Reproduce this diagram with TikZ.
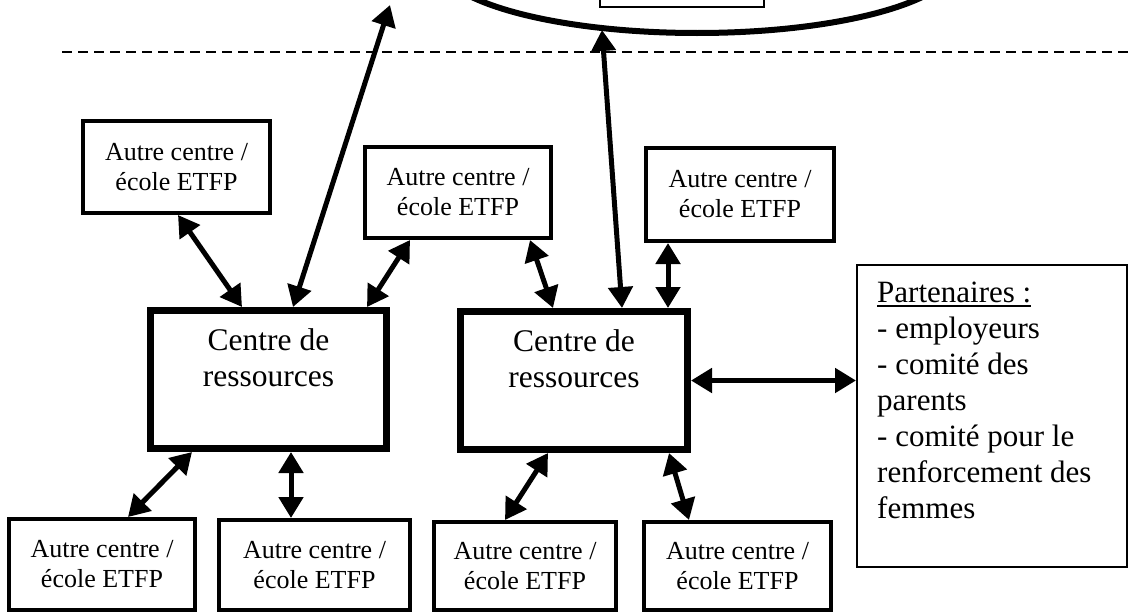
\documentclass[tikz,border=0pt]{standalone}
\usepackage{fontspec}
\setmainfont{Liberation Serif}
\usetikzlibrary{arrows.meta,shapes.geometric}
\newsavebox\myulbox
\newcommand\myul[1]{\sbox\myulbox{#1}\rlap{\rule[-4pt]{\wd\myulbox}{1.5pt}}\usebox\myulbox}
\begin{document}
\begin{tikzpicture}[x=1pt,y=-1pt,
  sbox/.style={draw, line width=4pt, rectangle, inner sep=0pt, align=center,
    font=\fontsize{26}{30}\selectfont},
  cbox/.style={draw, line width=7pt, rectangle, inner sep=0pt},
  ctext/.style={inner sep=0pt, align=center, anchor=north,
    font=\fontsize{31.5}{36}\selectfont},
  arr/.style={line width=5pt,
    {Triangle[length=21pt,width=24pt]}-{Triangle[length=21pt,width=24pt]}},
]
\useasboundingbox (0,0) rectangle (1129,613);
\clip (0,0) rectangle (1129,613);
\fill[white] (0,0) rectangle (1129,613);

% top ellipse and inner box
\node[draw, ellipse, line width=6pt, minimum width=520pt, minimum height=144pt, inner sep=0pt] (top) at (697,-39) {};
\node[draw, line width=2pt, rectangle, minimum width=164pt, minimum height=47pt, inner sep=0pt] (topbox) at (682,-16.5) {};
\coordinate (ext1) at (390,5);
\coordinate (ext2) at (602,30);

% dashed line
\draw[line width=2pt, dash pattern=on 10pt off 6pt] (62,52) -- (1129,52);

% top boxes
\node[sbox, minimum width=187pt, minimum height=92pt] (tl1) at (176.5,167) {Autre centre /\\école ETFP};
\node[sbox, minimum width=186pt, minimum height=91pt] (tl2) at (458,192.5) {Autre centre /\\école ETFP};
\node[sbox, minimum width=188pt, minimum height=93pt] (tl3) at (740,194.5) {Autre centre /\\école ETFP};

% centre boxes
\node[cbox, minimum width=236pt, minimum height=138pt] (c1) at (268.5,379.5) {};
\node[ctext] (c1t) at (268.5,328.5) {Centre de\\ressources};
\node[cbox, minimum width=227pt, minimum height=138pt] (c2) at (574,380.5) {};
\node[ctext] (c2t) at (574,329) {Centre de\\ressources};

% bottom boxes
\node[sbox, minimum width=186pt, minimum height=91pt] (bl1) at (102,564.5) {Autre centre /\\école ETFP};
\node[sbox, minimum width=191pt, minimum height=90pt] (bl2) at (314.5,565) {Autre centre /\\école ETFP};
\node[sbox, minimum width=182pt, minimum height=88pt] (bl3) at (525,566) {Autre centre /\\école ETFP};
\node[sbox, minimum width=187pt, minimum height=88pt] (bl4) at (737.5,566) {Autre centre /\\école ETFP};

% partners
\node[draw, line width=2pt, rectangle, minimum width=270pt, minimum height=302pt, inner sep=0pt] (p) at (992,416) {};
\node[inner sep=0pt, anchor=north west, align=left, font=\fontsize{31}{36}\selectfont] (pt) at (877,282)
  {\myul{Partenaires :}\\- employeurs\\- comité des\\parents\\- comité pour le\\renforcement des\\femmes};

% connectors
\draw[arr] ([xshift=1.5pt]tl1.south) -- ([xshift=-26.5pt]c1.north);
\draw[arr] ([xshift=-48pt]tl2.south) -- ([xshift=98.5pt]c1.north);
\draw[arr] ([xshift=24.5pt]c1.north) -- (ext1);
\draw[arr] ([xshift=72pt]tl2.south) -- ([xshift=-21pt]c2.north);
\draw[arr] ([xshift=48pt]c2.north) -- (ext2);
\draw[arr] ([xshift=-72pt]tl3.south) -- ([xshift=94pt]c2.north);
\draw[arr] (c2.east) -- (p.west |- c2.east);
\draw[arr] ([xshift=-76.5pt]c1.south) -- ([xshift=26pt]bl1.north);
\draw[arr] ([xshift=22.5pt]c1.south) -- ([xshift=-23.5pt]bl2.north);
\draw[arr] ([xshift=-26pt]c2.south) -- ([xshift=-20pt]bl3.north);
\draw[arr] ([xshift=95pt]c2.south) -- ([xshift=-48.5pt]bl4.north);
\end{tikzpicture}
\end{document}
